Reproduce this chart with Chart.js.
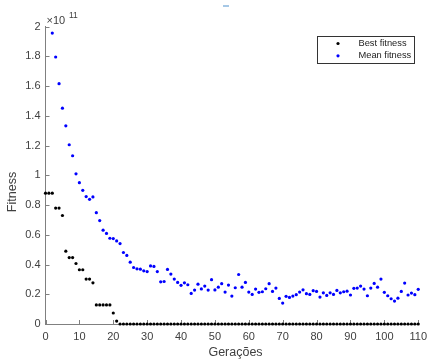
<!DOCTYPE html>
<html>
<head>
<meta charset="utf-8">
<script src="https://cdn.jsdelivr.net/npm/chart.js@4.4.0/dist/chart.umd.min.js"></script>
<style>
  html, body { margin: 0; padding: 0; background: #fff; }
  #wrap { width: 433px; height: 360px; }
</style>
</head>
<body>
<div id="wrap"><canvas id="fitnessChart" width="433" height="360"></canvas></div>
<script>
// values are in units of 1e11
const generations = [0,1,2,3,4,5,6,7,8,9,10,11,12,13,14,15,16,17,18,19,20,21,22,23,24,25,26,27,28,29,30,
  31,32,33,34,35,36,37,38,39,40,41,42,43,44,45,46,47,48,49,50,51,52,53,54,55,56,57,58,59,60,
  61,62,63,64,65,66,67,68,69,70,71,72,73,74,75,76,77,78,79,80,81,82,83,84,85,86,87,88,89,90,
  91,92,93,94,95,96,97,98,99,100,101,102,103,104,105,106,107,108,109,110];

const bestFitness = [0.88,0.88,0.88,0.78,0.78,0.73,0.49,0.447,0.447,0.407,0.365,0.365,0.302,0.302,0.277,
  0.128,0.128,0.128,0.128,0.128,0.074,0.02,
  0,0,0,0,0,0,0,0,0,0,0,0,0,0,0,0,0,0,0,0,0,0,0,0,0,0,0,0,0,0,0,0,0,0,0,0,0,0,0,0,
  0,0,0,0,0,0,0,0,0,0,0,0,0,0,0,0,0,0,0,0,0,0,0,0,0,0,0,0,0,0,0,0,0,0,0,0,0,0,0,0,
  0,0,0,0,0,0,0,0,0,0,0,0,0,0,0,0,0,0,0,0,0,0,0,0,0,0,0,0,0];

const meanFitness = [null,null,1.957,1.796,1.617,1.452,1.333,1.206,1.132,1.01,0.951,0.899,0.857,0.839,0.855,
  0.749,0.696,0.631,0.609,0.577,0.575,0.559,0.541,0.481,0.461,0.416,0.380,0.371,0.369,0.358,0.353,
  0.391,0.387,0.353,0.284,0.286,0.367,0.336,0.302,0.280,0.26,0.277,0.264,0.206,0.228,0.268,0.236,
  0.255,0.228,0.298,0.229,0.248,0.271,0.215,0.262,0.188,0.244,0.333,0.248,0.280,0.215,0.199,0.235,
  0.213,0.217,0.237,0.271,0.219,0.242,0.172,0.141,0.186,0.179,0.188,0.197,0.215,0.230,0.204,0.199,
  0.224,0.219,0.181,0.210,0.192,0.210,0.199,0.226,0.210,0.217,0.221,0.195,0.240,0.242,0.255,0.235,
  0.190,0.242,0.273,0.248,0.302,0.213,0.190,0.170,0.154,0.174,0.219,0.275,0.195,0.208,0.197,0.233];

const xTicks = [0,10,20,30,40,50,60,70,80,90,100,110];
const yTicks = [0,0.2,0.4,0.6,0.8,1,1.2,1.4,1.6,1.8,2];

const FONT = '"Liberation Sans", Arial, Helvetica, sans-serif';
const TEXT = '#404040';
const AXIS = '#808080';

function toPoints(values) {
  return generations.map((g, i) => ({ x: g, y: values[i] }));
}

// inward ticks, axis titles, exponent, legend
const matlabDecor = {
  id: 'matlabDecor',
  beforeDatasetsDraw(chart) {
    const ctx = chart.ctx;
    const xs = chart.scales.x, ys = chart.scales.y;
    const a = chart.chartArea;
    ctx.save();
    ctx.strokeStyle = AXIS;
    ctx.lineWidth = 1;
    ctx.beginPath();
    xTicks.forEach(v => {
      const px = Math.round(xs.getPixelForValue(v)) + 0.5;
      ctx.moveTo(px, a.bottom);
      ctx.lineTo(px, a.bottom - 4);
    });
    yTicks.forEach(v => {
      const py = Math.round(ys.getPixelForValue(v)) + 0.5;
      ctx.moveTo(a.left, py);
      ctx.lineTo(a.left + 4, py);
    });
    ctx.stroke();
    ctx.restore();
  },
  afterDraw(chart) {
    const ctx = chart.ctx;
    ctx.save();
    ctx.fillStyle = TEXT;
    ctx.textBaseline = 'middle';

    // x title
    ctx.font = '12.5px ' + FONT;
    ctx.textAlign = 'center';
    ctx.fillText('Gerações', 235.5, 353);

    // y title
    ctx.save();
    ctx.translate(12.5, 192);
    ctx.rotate(-Math.PI / 2);
    ctx.fillText('Fitness', 0, 0);
    ctx.restore();

    // exponent
    ctx.textAlign = 'left';
    ctx.textBaseline = 'alphabetic';
    ctx.font = '11px ' + FONT;
    ctx.fillText('\u00d710', 46.5, 23.5);
    ctx.font = '8.5px ' + FONT;
    ctx.fillText('11', 69, 18);

    // small mark at top
    ctx.fillStyle = '#a6c8e6';
    ctx.fillRect(223, 5, 6, 2);

    // legend
    const lx = 317.5, ly = 36.5, lw = 97, lh = 27;
    ctx.fillStyle = '#fff';
    ctx.fillRect(lx, ly, lw, lh);
    ctx.strokeStyle = '#333';
    ctx.lineWidth = 1;
    ctx.strokeRect(lx, ly, lw, lh);
    ctx.font = '9.3px ' + FONT;
    ctx.textBaseline = 'middle';
    chart.data.datasets.forEach((ds, i) => {
      const cy = 43.5 + i * 12.3;
      ctx.fillStyle = ds.backgroundColor;
      ctx.beginPath();
      ctx.arc(338, cy, 1.6, 0, Math.PI * 2);
      ctx.fill();
      ctx.fillStyle = '#222';
      ctx.fillText(ds.label, 358.5, cy);
    });
    ctx.restore();
  }
};

const axisGrid = { display: true, drawOnChartArea: false, drawTicks: false };

new Chart(document.getElementById('fitnessChart'), {
  type: 'scatter',
  data: {
    datasets: [
      { label: 'Best fitness', data: toPoints(bestFitness), backgroundColor: '#000000', borderWidth: 0,
        pointRadius: 1.6, pointHoverRadius: 1.6, clip: false },
      { label: 'Mean fitness', data: toPoints(meanFitness), backgroundColor: '#0000ff', borderWidth: 0,
        pointRadius: 1.6, pointHoverRadius: 1.6, clip: false }
    ]
  },
  options: {
    responsive: false,
    animation: false,
    events: [],
    layout: { padding: { left: 0, right: 9.5, top: 26.7, bottom: 0 } },
    plugins: { legend: { display: false }, tooltip: { enabled: false } },
    scales: {
      x: {
        type: 'linear', min: 0, max: 110,
        afterBuildTicks: s => { s.ticks = xTicks.map(v => ({ value: v })); },
        afterFit: s => { s.height = 36; },
        grid: axisGrid,
        border: { display: true, color: AXIS, width: 1 },
        ticks: { color: TEXT, font: { family: FONT, size: 11 }, padding: 6, maxRotation: 0,
          callback: v => String(v) }
      },
      y: {
        type: 'linear', min: 0, max: 2,
        afterBuildTicks: s => { s.ticks = yTicks.map(v => ({ value: v })); },
        afterFit: s => { s.width = 45.5; },
        grid: axisGrid,
        border: { display: true, color: AXIS, width: 1 },
        ticks: { color: TEXT, font: { family: FONT, size: 11 }, padding: 5,
          callback: v => String(Math.round(v * 10) / 10) }
      }
    }
  },
  plugins: [matlabDecor]
});
</script>
</body>
</html>
